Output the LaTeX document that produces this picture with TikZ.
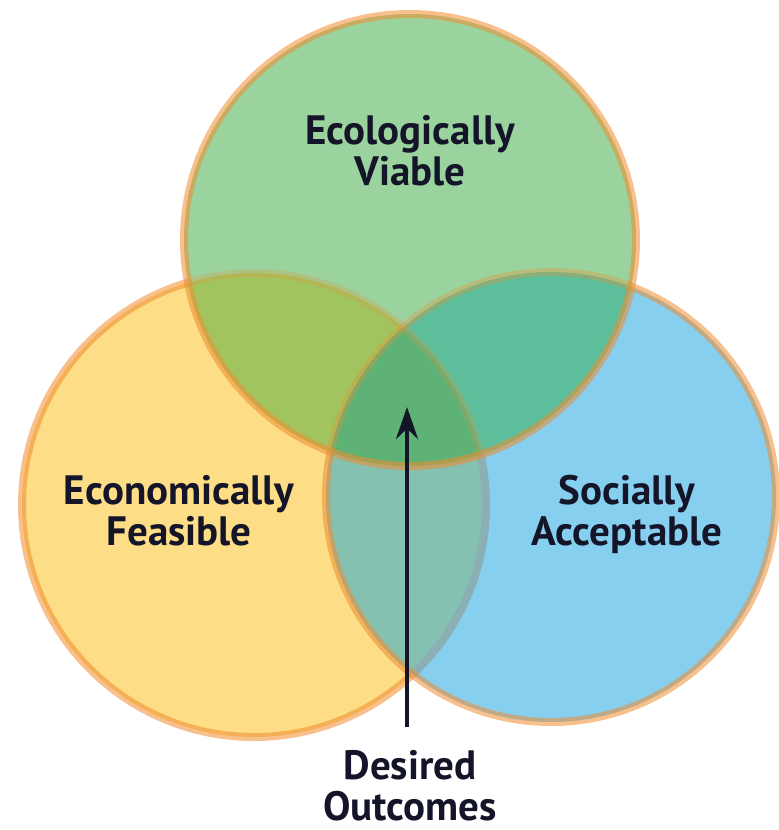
\documentclass[tikz,border=0pt]{standalone}
\usepackage{fontspec}
\setmainfont{PT Sans}
\usetikzlibrary{arrows.meta}
\definecolor{cgreen}{HTML}{9BD39E}
\definecolor{cyellow}{HTML}{FDDD86}
\definecolor{cblue}{HTML}{87CFEF}
\definecolor{cgy}{HTML}{A2C45E}
\definecolor{cgb}{HTML}{5CBE9B}
\definecolor{cyb}{HTML}{85C1B1}
\definecolor{cgyb}{HTML}{5EB276}
\definecolor{cring}{HTML}{F08C30}
\definecolor{cfaint}{HTML}{8AAFB5}
\definecolor{ctext}{HTML}{15152A}
\tikzset{
  ring/.style={draw=cring, draw opacity=0.55, line width=8pt},
  faintring/.style={draw=cring, draw opacity=0.22, line width=8pt},
  label/.style={font=\bfseries\fontsize{41}{41}\selectfont, text=ctext, align=center, inner sep=0pt},
}
\begin{document}
\begin{tikzpicture}[x=1pt,y=-1pt]
\useasboundingbox (0,0) rectangle (779,830);
\coordinate (G) at (410,240);
\coordinate (Y) at (254,505);
\coordinate (B) at (551,497);
\def\rG{226}\def\rY{232}\def\rB{225}
% yellow
\fill[cyellow] (Y) circle[radius=\rY];
\draw[ring] (Y) circle[radius=\rY];
% blue
\fill[cblue] (B) circle[radius=\rB];
\begin{scope}
  \clip (Y) circle[radius=\rY];
  \fill[cyb] (B) circle[radius=\rB];
\end{scope}
\begin{scope}
  \clip (B) circle[radius=\rB];
  \draw[draw=cfaint, line width=8pt] (Y) circle[radius=\rY];
\end{scope}
\draw[ring] (B) circle[radius=\rB];
% green
\fill[cgreen] (G) circle[radius=\rG];
\begin{scope}
  \clip (G) circle[radius=\rG];
  \fill[cgy] (Y) circle[radius=\rY];
  \fill[cgb] (B) circle[radius=\rB];
  \clip (Y) circle[radius=\rY];
  \fill[cgyb] (B) circle[radius=\rB];
\end{scope}
\begin{scope}
  \clip (G) circle[radius=\rG];
  \draw[faintring] (Y) circle[radius=\rY];
  \draw[draw=cring, draw opacity=0.32, line width=8pt] (B) circle[radius=\rB];
\end{scope}
\draw[ring] (G) circle[radius=\rG];
% labels
\node[label, anchor=base] (eco) at (410,185) {Ecologically\\Viable};
\node[label, anchor=base] (econ) at (179,545) {Economically\\Feasible};
\node[label, anchor=base] (soc) at (627,545) {Socially\\Acceptable};
\node[label, anchor=base] (des) at (410,820) {Desired\\Outcomes};
\coordinate (arrowstart) at (407,727);
\coordinate (arrowtip) at (407,407);
\draw[line width=4pt, ctext, -{Stealth[length=32pt,width=22pt]}] (arrowstart) -- (arrowtip);
\end{tikzpicture}
\end{document}
